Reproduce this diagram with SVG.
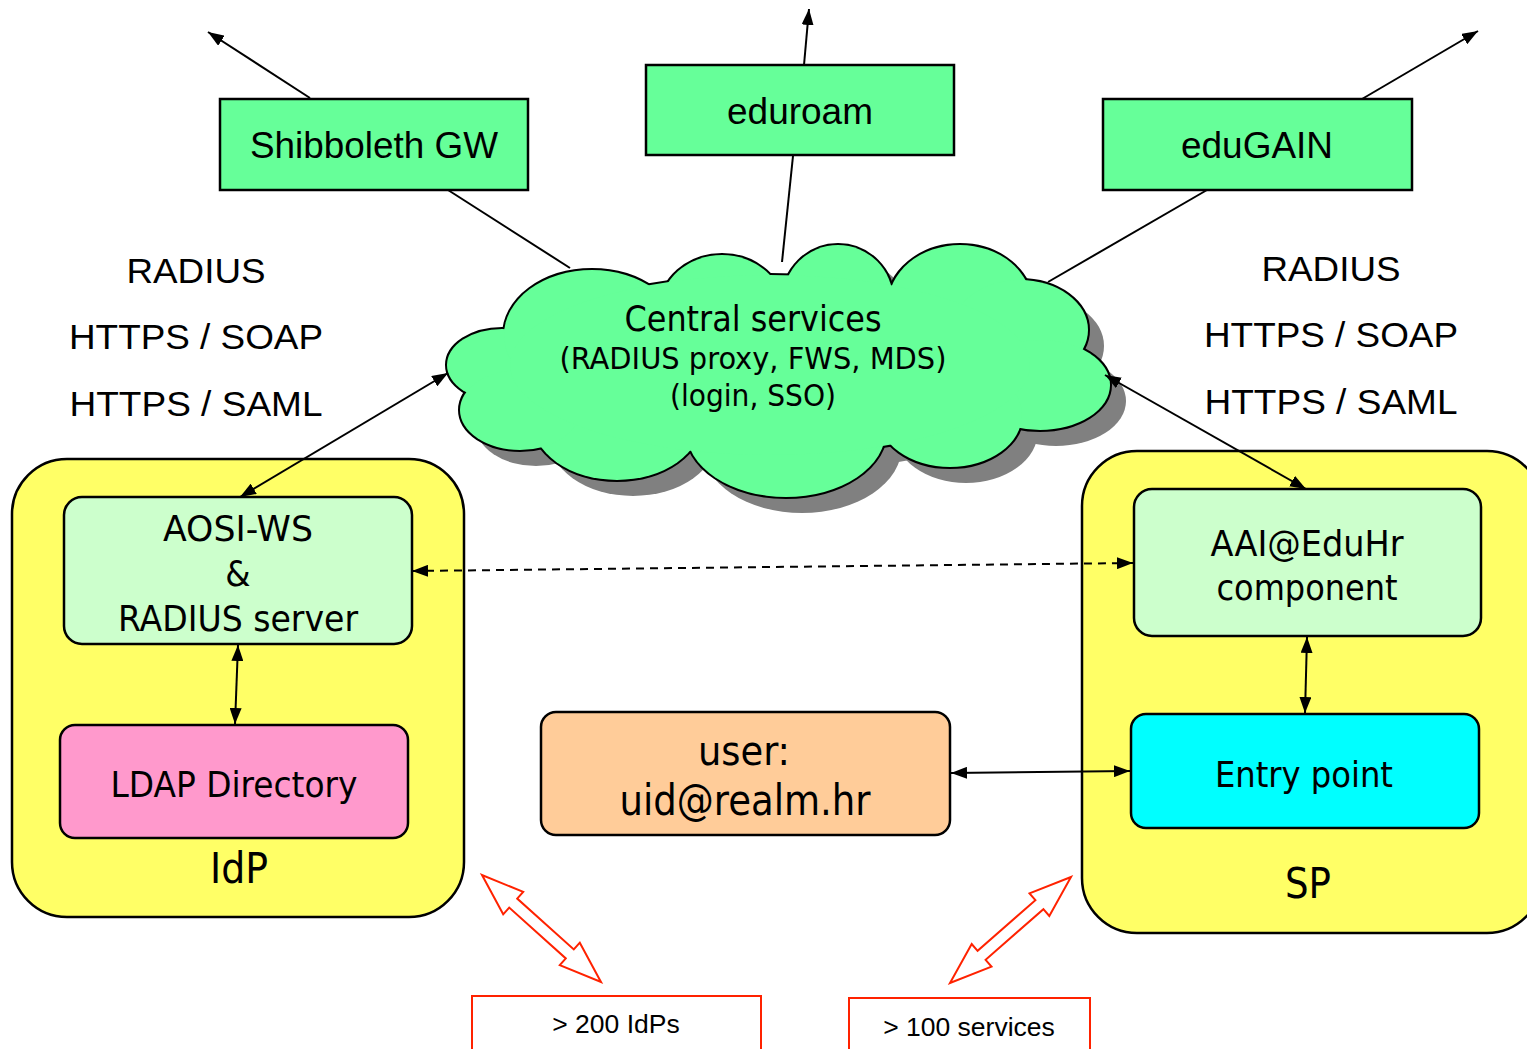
<svg xmlns="http://www.w3.org/2000/svg" xmlns:xlink="http://www.w3.org/1999/xlink" width="1527" height="1049" viewBox="0 0 1527 1049">
<style>
.gbox{fill:#66FF99;stroke:#000;stroke-width:2.5}
.cont{fill:#FFFF66;stroke:#000;stroke-width:2.5}
.lg{fill:#CCFFCC;stroke:#000;stroke-width:2.5}
.ar{font-family:"Liberation Sans",Arial,sans-serif;fill:#000}
.ta{font-family:"DejaVu Sans Condensed","DejaVu Sans",sans-serif;font-stretch:condensed;fill:#000}
.ln{stroke:#000;stroke-width:2;fill:none}
.red{fill:#fff;stroke:#FF2200;stroke-width:2}
</style>
<defs>
<marker id="ah" viewBox="0 0 16 12" refX="16" refY="6" markerWidth="16" markerHeight="12" markerUnits="userSpaceOnUse" orient="auto-start-reverse">
<path d="M0,0 L16,6 L0,12 z" fill="#000"/>
</marker>
<g id="cloud">
<ellipse cx="502" cy="365" rx="55" ry="36"/>
<ellipse cx="592" cy="335" rx="88" ry="65"/>
<ellipse cx="722" cy="310" rx="62" ry="55"/>
<ellipse cx="838" cy="300" rx="55" ry="55"/>
<ellipse cx="960" cy="305" rx="72" ry="60"/>
<ellipse cx="1020" cy="330" rx="68" ry="50"/>
<ellipse cx="1040" cy="385" rx="70" ry="45"/>
<ellipse cx="950" cy="415" rx="72" ry="52"/>
<ellipse cx="786" cy="430" rx="100" ry="67"/>
<ellipse cx="617" cy="420" rx="85" ry="60"/>
<ellipse cx="520" cy="410" rx="60" ry="40"/>
<ellipse cx="770" cy="365" rx="260" ry="90"/>
</g>
</defs>
<rect width="1527" height="1049" fill="#fff"/>

<g id="connectors">
<line class="ln" x1="310" y1="98" x2="208" y2="32" marker-end="url(#ah)"/>
<line class="ln" x1="448" y1="190" x2="570" y2="268"/>
<line class="ln" x1="804" y1="65" x2="809" y2="9" marker-end="url(#ah)"/>
<line class="ln" x1="793" y1="156" x2="782" y2="262"/>
<line class="ln" x1="1362" y1="99" x2="1478" y2="31" marker-end="url(#ah)"/>
<line class="ln" x1="1207" y1="190" x2="1048" y2="282"/>
</g>

<g id="cloud-node">
<use xlink:href="#cloud" transform="translate(16,16)" fill="#808080"/>
<use xlink:href="#cloud" fill="#66FF99" stroke="#000" stroke-width="4"/>
<use xlink:href="#cloud" fill="#66FF99"/>
<text class="ta" x="753" y="331" font-size="36" text-anchor="middle" textLength="257" lengthAdjust="spacingAndGlyphs">Central services</text>
<text class="ta" x="753" y="369" font-size="30" text-anchor="middle" textLength="387" lengthAdjust="spacingAndGlyphs">(RADIUS proxy, FWS, MDS)</text>
<text class="ta" x="753" y="406" font-size="30" text-anchor="middle" textLength="166" lengthAdjust="spacingAndGlyphs">(login, SSO)</text>
</g>

<g id="shibboleth">
<rect class="gbox" x="220" y="99" width="308" height="91"/>
<text class="ar" x="374" y="158" font-size="36" text-anchor="middle" textLength="248" lengthAdjust="spacingAndGlyphs">Shibboleth GW</text>
</g>
<g id="eduroam">
<rect class="gbox" x="646" y="65" width="308" height="90"/>
<text class="ar" x="800" y="124" font-size="36" text-anchor="middle" textLength="146" lengthAdjust="spacingAndGlyphs">eduroam</text>
</g>
<g id="edugain">
<rect class="gbox" x="1103" y="99" width="309" height="91"/>
<text class="ar" x="1257" y="158" font-size="36" text-anchor="middle" textLength="152" lengthAdjust="spacingAndGlyphs">eduGAIN</text>
</g>

<g id="protocols-left">
<text class="ar" x="196" y="283" font-size="35" text-anchor="middle" textLength="139" lengthAdjust="spacingAndGlyphs">RADIUS</text>
<text class="ar" x="196" y="349" font-size="35" text-anchor="middle" textLength="254" lengthAdjust="spacingAndGlyphs">HTTPS / SOAP</text>
<text class="ar" x="196" y="416" font-size="35" text-anchor="middle" textLength="253" lengthAdjust="spacingAndGlyphs">HTTPS / SAML</text>
</g>
<g id="protocols-right">
<text class="ar" x="1331" y="281" font-size="35" text-anchor="middle" textLength="139" lengthAdjust="spacingAndGlyphs">RADIUS</text>
<text class="ar" x="1331" y="347" font-size="35" text-anchor="middle" textLength="254" lengthAdjust="spacingAndGlyphs">HTTPS / SOAP</text>
<text class="ar" x="1331" y="414" font-size="35" text-anchor="middle" textLength="253" lengthAdjust="spacingAndGlyphs">HTTPS / SAML</text>
</g>

<g id="idp">
<rect class="cont" x="12" y="459" width="452" height="458" rx="55"/>
<text class="ta" x="239" y="883" font-size="42" text-anchor="middle" textLength="58" lengthAdjust="spacingAndGlyphs">IdP</text>
</g>
<g id="aosi">
<rect class="lg" x="64" y="497" width="348" height="147" rx="18"/>
<text class="ta" x="238" y="541" font-size="36" text-anchor="middle" textLength="150" lengthAdjust="spacingAndGlyphs">AOSI-WS</text>
<text class="ta" x="238" y="586" font-size="36" text-anchor="middle">&amp;</text>
<text class="ta" x="238" y="631" font-size="36" text-anchor="middle" textLength="240" lengthAdjust="spacingAndGlyphs">RADIUS server</text>
</g>
<g id="ldap">
<rect x="60" y="725" width="348" height="113" rx="15" fill="#FF99CC" stroke="#000" stroke-width="2.5"/>
<text class="ta" x="234" y="797" font-size="36" text-anchor="middle" textLength="247" lengthAdjust="spacingAndGlyphs">LDAP Directory</text>
</g>

<g id="sp">
<rect class="cont" x="1082" y="451" width="460" height="482" rx="55"/>
<text class="ta" x="1308" y="898" font-size="42" text-anchor="middle" textLength="46" lengthAdjust="spacingAndGlyphs">SP</text>
</g>
<g id="aai">
<rect class="lg" x="1134" y="489" width="347" height="147" rx="18"/>
<text class="ta" x="1307" y="556" font-size="36" text-anchor="middle" textLength="193" lengthAdjust="spacingAndGlyphs">AAI@EduHr</text>
<text class="ta" x="1307" y="600" font-size="36" text-anchor="middle" textLength="181" lengthAdjust="spacingAndGlyphs">component</text>
</g>
<g id="entry">
<rect x="1131" y="714" width="348" height="114" rx="15" fill="#00FFFF" stroke="#000" stroke-width="2.5"/>
<text class="ta" x="1304" y="787" font-size="36" text-anchor="middle" textLength="178" lengthAdjust="spacingAndGlyphs">Entry point</text>
</g>

<g id="user">
<rect x="541" y="712" width="409" height="123" rx="15" fill="#FFCC99" stroke="#000" stroke-width="2.5"/>
<text class="ta" x="744" y="765" font-size="40" text-anchor="middle" textLength="92" lengthAdjust="spacingAndGlyphs">user:</text>
<text class="ta" x="745" y="815" font-size="42" text-anchor="middle" textLength="251" lengthAdjust="spacingAndGlyphs">uid@realm.hr</text>
</g>

<g id="connectors-inner">
<line class="ln" x1="448" y1="373" x2="240" y2="497" marker-start="url(#ah)" marker-end="url(#ah)"/>
<line class="ln" x1="1105" y1="375" x2="1306" y2="489" marker-start="url(#ah)" marker-end="url(#ah)"/>
<line class="ln" x1="412" y1="571" x2="1133" y2="563" stroke-dasharray="8,6" marker-start="url(#ah)" marker-end="url(#ah)"/>
<line class="ln" x1="238" y1="645" x2="235" y2="724" marker-start="url(#ah)" marker-end="url(#ah)"/>
<line class="ln" x1="1307" y1="637" x2="1305" y2="713" marker-start="url(#ah)" marker-end="url(#ah)"/>
<line class="ln" x1="951" y1="773" x2="1130" y2="771" marker-start="url(#ah)" marker-end="url(#ah)"/>
</g>

<g id="red-arrows">
<polygon class="red" points="482,875 503.2,914.3 509.2,907.6 565.8,958.4 559.8,965.1 601,982 579.8,942.7 573.8,949.4 517.2,898.6 523.2,891.9"/>
<polygon class="red" points="1071,877 1029.5,893.4 1035.4,900.2 977.6,950.8 971.7,944 950,983 991.5,966.6 985.6,959.8 1043.4,909.2 1049.3,916"/>
</g>

<g id="idps-count">
<rect class="red" x="472" y="996" width="289" height="70" stroke="#FF0000"/>
<text class="ar" x="616" y="1033" font-size="26.5" text-anchor="middle">&gt; 200 IdPs</text>
</g>
<g id="services-count">
<rect class="red" x="849" y="998" width="241" height="70" stroke="#FF0000"/>
<text class="ar" x="969" y="1036" font-size="26.5" text-anchor="middle">&gt; 100 services</text>
</g>
</svg>
